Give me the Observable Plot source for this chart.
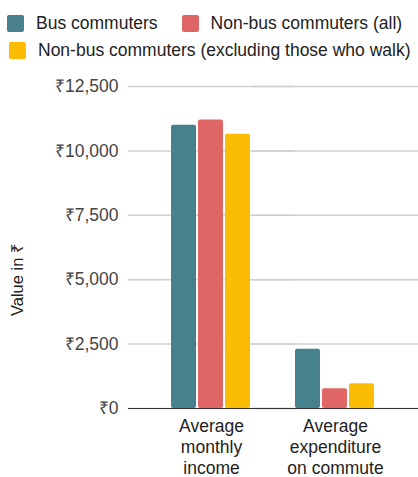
<!DOCTYPE html>
<html>
<head>
<meta charset="utf-8">
<script src="https://cdn.jsdelivr.net/npm/d3@7"></script>
<script src="https://cdn.jsdelivr.net/npm/@observablehq/plot@0.6"></script>
<style>
  html, body { margin: 0; padding: 0; background: #fff; }
  body { width: 418px; height: 477px; overflow: hidden; position: relative; font-family: "Liberation Sans", Arial, sans-serif; }
  #legend { width: 418px; height: 62px; padding: 10px 0 0 7px; box-sizing: border-box; display: flex; flex-wrap: wrap; align-content: flex-start; column-gap: 24px; font-size: 17.5px; color: #222; }
  .item { display: inline-flex; align-items: center; height: 27px; white-space: nowrap; flex-shrink: 0; }
  .item:last-child { margin-left: 2px; }
  .sw { width: 17px; height: 17px; border-radius: 2px; margin-right: 12px; flex-shrink: 0; }
  #chart svg { display: block; }
  #ylabel { position: absolute; left: 16px; top: 280px; transform: translate(-50%, -50%) rotate(-90deg); font-size: 16.5px; color: #222; white-space: nowrap; }
</style>
</head>
<body>
<div id="legend"></div>
<div id="chart"></div>
<div id="ylabel"></div>
<script>
const categories = ["Average\nmonthly\nincome", "Average\nexpenditure\non commute"];
const series = ["Bus commuters", "Non-bus commuters (all)", "Non-bus commuters (excluding those who walk)"];
const busCommuters = [11000, 2300];
const nonBusAll = [11200, 765];
const nonBusExcludingWalk = [10650, 960];
const yTicks = [0, 2500, 5000, 7500, 10000, 12500];
const colors = ["#46818e", "#e06666", "#fbbc04"];
const yLabel = "Value in ₹";

const seriesValues = [busCommuters, nonBusAll, nonBusExcludingWalk];
const data = [];
categories.forEach((c, i) => {
  series.forEach((s, j) => data.push({category: c, series: s, value: seriesValues[j][i]}));
});

const fmt = d => "₹" + d3.format(",")(d);

// Legend (HTML, built from the series/colors arrays)
const legend = d3.select("#legend");
series.forEach((s, i) => {
  const it = legend.append("span").attr("class", "item");
  it.append("span").attr("class", "sw").style("background", colors[i]);
  it.append("span").text(s);
});

document.getElementById("ylabel").textContent = yLabel;

const chart = Plot.plot({
  width: 418,
  height: 415,
  marginTop: 24,
  marginBottom: 69,
  marginLeft: 128,
  marginRight: 0,
  style: {fontFamily: "Liberation Sans, Arial, sans-serif", fontSize: "17.5px", color: "#222"},
  fx: {domain: categories, paddingInner: 0, paddingOuter: 0.169, label: null},
  x: {domain: series, paddingInner: 0.074, paddingOuter: 0.833, axis: null},
  y: {domain: [0, 12500], label: null},
  color: {domain: series, range: colors},
  marks: [
    Plot.gridY(yTicks, {stroke: "#d0d0d0", strokeOpacity: 1, strokeWidth: 1.5, insetLeft: -21, insetRight: -21}),
    Plot.axisY(yTicks, {tickFormat: fmt, tickSize: 0, tickPadding: 31, fontSize: 17.5, fill: "#444", label: null}),
    Plot.axisFx({anchor: "bottom", tickSize: 0, tickPadding: 9, lineHeight: 1.2, fontSize: 17.5, fill: "#222", label: null}),
    Plot.barY(data, {fx: "category", x: "series", y: "value", fill: "series", rx: 2}),
    Plot.ruleY([0], {stroke: "#333", strokeWidth: 1.2, insetLeft: -21, insetRight: -21})
  ]
});
document.getElementById("chart").append(chart);
</script>
</body>
</html>
